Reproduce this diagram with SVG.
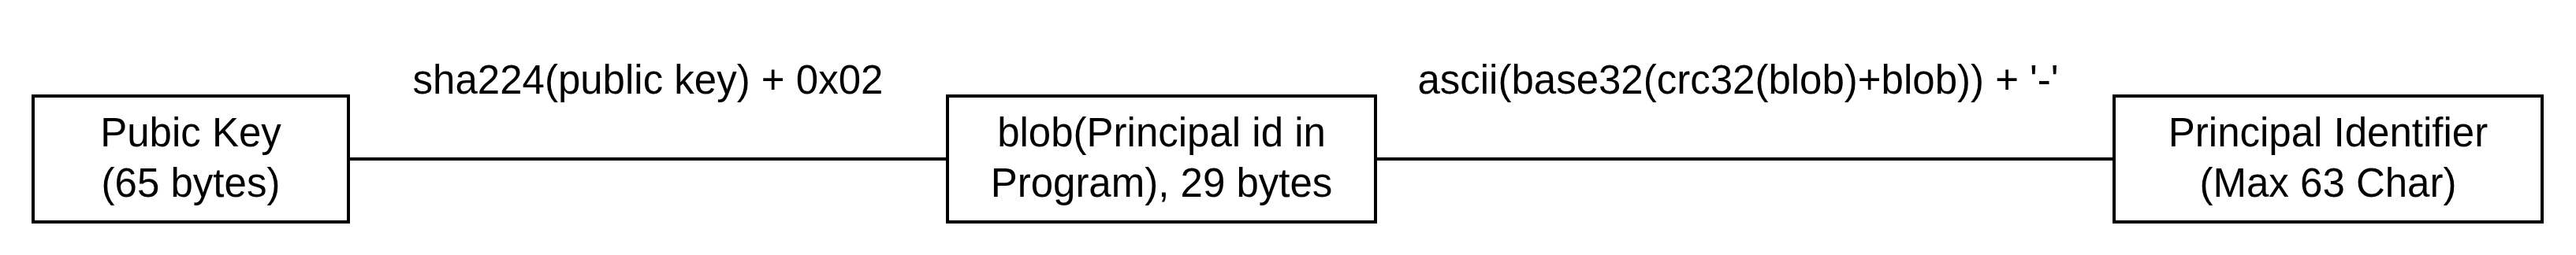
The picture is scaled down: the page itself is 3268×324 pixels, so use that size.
<svg xmlns="http://www.w3.org/2000/svg" width="3268" height="324" viewBox="0 0 3268 324">
<style>
.box{fill:#fff;stroke:#000;stroke-width:4}
.edge{fill:none;stroke:#000;stroke-width:4}
text{font-family:"Liberation Sans",Arial,Helvetica,sans-serif;font-size:51px;fill:#000;text-anchor:middle}
</style>
<rect width="3268" height="324" fill="#fff"/>
<g id="connectors">
<path class="edge" d="M442 202 H1202"/>
<path class="edge" d="M1745 202 H2682"/>
<text x="822" y="119">sha224(public key) + 0x02</text>
<text x="2205" y="119">ascii(base32(crc32(blob)+blob)) + '-'</text>
</g>
<g id="node-pubkey">
<rect class="box" x="42" y="122" width="400" height="160"/>
<text x="242" y="186">Pubic Key</text>
<text x="242" y="250">(65 bytes)</text>
</g>
<g id="node-blob">
<rect class="box" x="1202" y="122" width="543" height="160"/>
<text x="1473.5" y="186">blob(Principal id in</text>
<text x="1473.5" y="250">Program), 29 bytes</text>
</g>
<g id="node-principal">
<rect class="box" x="2682" y="122" width="543" height="160"/>
<text x="2953.5" y="186">Principal Identifier</text>
<text x="2953.5" y="250">(Max 63 Char)</text>
</g>
</svg>
